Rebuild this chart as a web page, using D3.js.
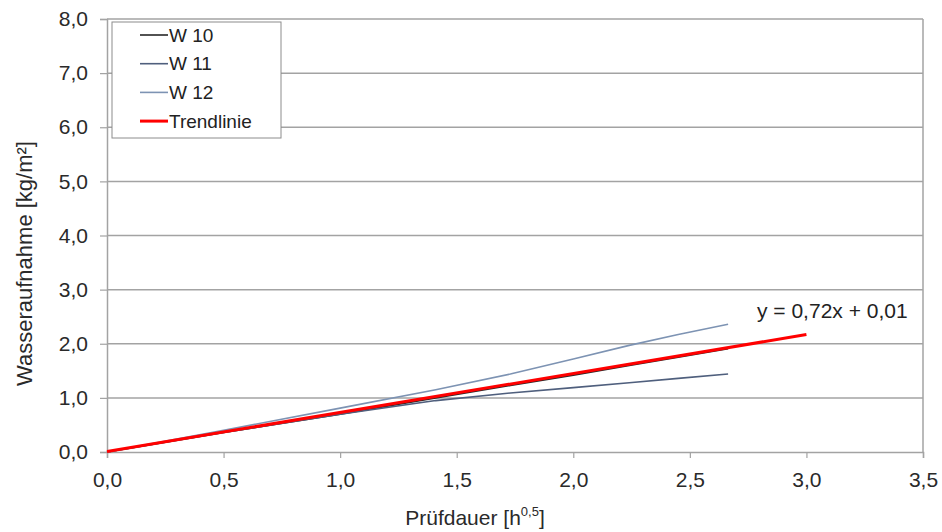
<!DOCTYPE html>
<html>
<head>
<meta charset="utf-8">
<script src="https://cdn.jsdelivr.net/npm/d3@7"></script>
<style>
  html, body { margin: 0; padding: 0; background: #fff; }
  svg { display: block; font-family: "Liberation Sans", Arial, sans-serif; }
</style>
</head>
<body>
<svg id="chart" width="942" height="532"></svg>
<script>
// Prüfdauer as square root of hours
const timeSqrt = [0, 0.5, 1.0, 1.41, 1.73, 2.0, 2.24, 2.45, 2.664];
// Wasseraufnahme in kg/m² per specimen
const w10 = [0, 0.36, 0.70, 1.00, 1.23, 1.42, 1.60, 1.75, 1.91];
const w11 = [0, 0.36, 0.70, 0.95, 1.09, 1.19, 1.28, 1.36, 1.44];
const w12 = [0, 0.40, 0.81, 1.15, 1.44, 1.72, 1.97, 2.17, 2.36];
// Linear trend y = slope * x + intercept
const trendSlope = 0.72;
const trendIntercept = 0.01;
const trendRange = [0, 3.0];
const xTicks = [0, 0.5, 1.0, 1.5, 2.0, 2.5, 3.0, 3.5];
const yTicks = [0, 1, 2, 3, 4, 5, 6, 7, 8];
const seriesNames = ["W 10", "W 11", "W 12", "Trendlinie"];
const seriesColors = ["#262626", "#4f5f7d", "#7d93b3", "#ff0000"];

const svg = d3.select("#chart");
const plotLeft = 107, plotRight = 923, plotTop = 19, plotBottom = 452;

const x = d3.scaleLinear().domain([0, 3.5]).range([plotLeft, plotRight]);
const y = d3.scaleLinear().domain([0, 8]).range([plotBottom, plotTop]);
const fmt = d => d3.format(".1f")(d).replace(".", ",");

// horizontal grid lines
svg.append("g")
  .selectAll("line")
  .data(yTicks.slice(1))
  .join("line")
  .attr("x1", plotLeft).attr("x2", plotRight)
  .attr("y1", d => y(d)).attr("y2", d => y(d))
  .attr("stroke", "#a3a3a3").attr("stroke-width", 1.5);

// right frame edge
svg.append("line")
  .attr("x1", plotRight).attr("x2", plotRight).attr("y1", plotTop).attr("y2", plotBottom)
  .attr("stroke", "#a3a3a3").attr("stroke-width", 1.5);

// axes
const yAxis = svg.append("g")
  .attr("transform", `translate(${plotLeft},0)`)
  .call(d3.axisLeft(y).tickValues(yTicks).tickFormat(fmt).tickSize(7).tickPadding(12));
const xAxis = svg.append("g")
  .attr("transform", `translate(0,${plotBottom})`)
  .call(d3.axisBottom(x).tickValues(xTicks).tickFormat(fmt).tickSize(6).tickPadding(14));
[yAxis, xAxis].forEach(g => {
  g.select(".domain").attr("stroke", "#a3a3a3").attr("stroke-width", 1.5);
  g.selectAll(".tick line").attr("stroke", "#a3a3a3").attr("stroke-width", 1.2);
  g.selectAll(".tick text").attr("fill", "#2a2a2a").attr("font-size", 21)
    .attr("font-family", "'Liberation Sans', Arial, sans-serif");
});

// measured series
const line = d3.line().x(d => x(d[0])).y(d => y(d[1]));
const measured = [w10, w11, w12];
measured.forEach((vals, i) => {
  svg.append("path")
    .datum(timeSqrt.map((t, k) => [t, vals[k]]))
    .attr("fill", "none")
    .attr("stroke", seriesColors[i])
    .attr("stroke-width", 1.6)
    .attr("d", line);
});

// trend line
svg.append("path")
  .datum(trendRange.map(t => [t, trendSlope * t + trendIntercept]))
  .attr("fill", "none")
  .attr("stroke", seriesColors[3])
  .attr("stroke-width", 3)
  .attr("d", line);

// equation label
svg.append("text")
  .attr("x", 757).attr("y", 318)
  .attr("font-size", 21).attr("fill", "#222")
  .text(`y = ${String(trendSlope).replace(".", ",")}x + ${String(trendIntercept).replace(".", ",")}`);

// legend
const lg = svg.append("g");
lg.append("rect")
  .attr("x", 112).attr("y", 22).attr("width", 169).attr("height", 116)
  .attr("fill", "#fff").attr("stroke", "#8c8c8c").attr("stroke-width", 1);
seriesNames.forEach((name, i) => {
  const yy = 35 + i * 28.7;
  lg.append("line")
    .attr("x1", 140).attr("x2", 168).attr("y1", yy).attr("y2", yy)
    .attr("stroke", seriesColors[i]).attr("stroke-width", i === 3 ? 3 : 1.6);
  lg.append("text")
    .attr("x", 169).attr("y", yy + 6.5)
    .attr("font-size", 19).attr("fill", "#222")
    .text(name);
});

// axis titles
svg.append("text")
  .attr("transform", `translate(32,${(plotTop + plotBottom) / 2 + 28}) rotate(-90)`)
  .attr("text-anchor", "middle").attr("font-size", 22).attr("fill", "#2a2a2a")
  .text("Wasseraufnahme [kg/m²]");
const xt = svg.append("text")
  .attr("x", 475).attr("y", 525)
  .attr("text-anchor", "middle").attr("font-size", 21).attr("fill", "#2a2a2a");
xt.append("tspan").text("Prüfdauer [h");
xt.append("tspan").attr("font-size", 13).attr("dy", -9).text("0,5");
xt.append("tspan").attr("dy", 9).text("]");
</script>
</body>
</html>
